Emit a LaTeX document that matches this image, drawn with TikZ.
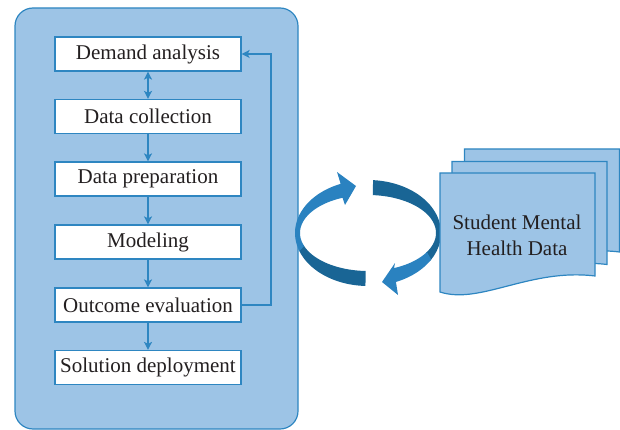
\documentclass[tikz,border=0pt]{standalone}
\usepackage{fontspec}
\setmainfont{Liberation Serif}
\usetikzlibrary{arrows.meta}
\definecolor{panel}{RGB}{157,196,230}
\definecolor{edge}{RGB}{46,134,193}
\definecolor{lightarc}{RGB}{42,130,192}
\definecolor{darkarc}{RGB}{25,101,149}
\definecolor{ink}{RGB}{35,31,32}
\tikzset{
  stepbox/.style={draw=edge, fill=white, line width=1.2pt, minimum width=186pt, minimum height=34pt, inner sep=0pt, text=ink, font=\fontsize{21}{25}\selectfont},
  flow/.style={draw=edge, line width=1.8pt, -{Stealth[length=8pt,width=8pt,inset=2pt]}},
  dflow/.style={draw=edge, line width=1.8pt, {Stealth[length=8pt,width=8pt,inset=2pt]}-{Stealth[length=8pt,width=8pt,inset=2pt]}},
  docshape/.style={draw=edge, fill=panel, line width=1.2pt},
}
\begin{document}
\begin{tikzpicture}[x=1pt,y=-1pt]
\useasboundingbox (0,0) rectangle (620,430);
% panel
\draw[draw=edge, fill=panel, line width=1.2pt, rounded corners=18pt] (15,8) rectangle (298,429);
% steps
\node[stepbox] (da) at (148,54) {Demand analysis};
\node[stepbox] (dc) at (148,116.5) {Data collection};
\node[stepbox] (dp) at (148,179) {Data preparation};
\node[stepbox] (mo) at (148,242) {Modeling};
\node[stepbox] (oe) at (148,305) {Outcome evaluation};
\node[stepbox] (sd) at (148,367.5) {Solution deployment};
\draw[dflow] (da) -- (dc);
\draw[flow] (dc) -- (dp);
\draw[flow] (dp) -- (mo);
\draw[flow] (mo) -- (oe);
\draw[flow] (oe) -- (sd);
\draw[flow] (oe.east) -- ++(29,0) |- (da.east);
% circular arrows
% left arc: dark lower part
\fill[darkarc] plot[domain=92:162,samples=30] ({368+73*cos(\x)},{233+53*sin(\x)})
  -- plot[domain=162:92,samples=30] ({368+68*cos(\x)},{233+38*sin(\x)}) -- cycle;
% left arc: light upper part with head
\fill[lightarc] plot[domain=160:248,samples=40] ({368+73*cos(\x)},{233+53*sin(\x)})
  -- (337,172) -- (356,186) -- (345,205)
  -- plot[domain=248:160,samples=40] ({368+68*cos(\x)},{233+38*sin(\x)}) -- cycle;
% right arc: dark upper part
\fill[darkarc] plot[domain=274:392,samples=50] ({368+73*cos(\x)},{233+53*sin(\x)})
  -- plot[domain=392:274,samples=50] ({368+68*cos(\x)},{233+38*sin(\x)}) -- cycle;
% right arc: light lower part with head
\fill[lightarc] plot[domain=390:427.5,samples=20] ({368+73*cos(\x)},{233+53*sin(\x)})
  -- (398,295) -- (382,282) -- (395,263)
  -- plot[domain=427.5:390,samples=20] ({368+68*cos(\x)},{233+38*sin(\x)}) -- cycle;
% documents
\begin{scope}[shift={(24.5,-24)}]
\draw[docshape] (440,173) -- (595,173) -- (595,276) .. controls (530,268) and (480,305) .. (440,292) -- cycle;
\end{scope}
\begin{scope}[shift={(12,-11.5)}]
\draw[docshape] (440,173) -- (595,173) -- (595,276) .. controls (530,268) and (480,305) .. (440,292) -- cycle;
\end{scope}
\draw[docshape] (440,173) -- (595,173) -- (595,276) .. controls (530,268) and (480,305) .. (440,292) -- cycle;
\node[text=ink, font=\fontsize{21}{26}\selectfont, align=center] (smh) at (517,235) {Student Mental\\Health Data};
\end{tikzpicture}
\end{document}
